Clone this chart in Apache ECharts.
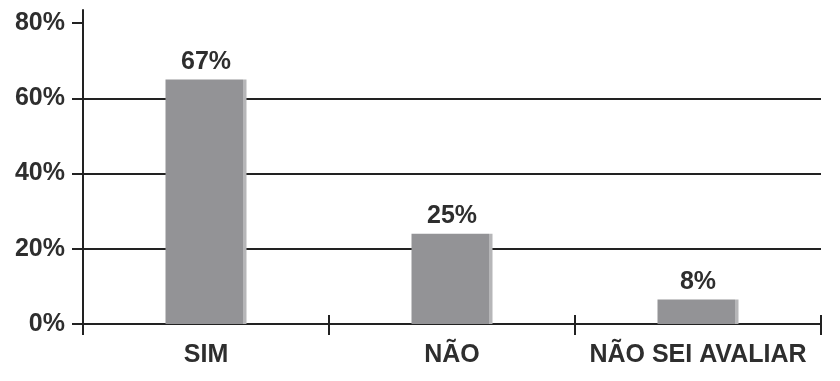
<!DOCTYPE html>
<html>
<head>
<meta charset="utf-8">
<script src="https://cdn.jsdelivr.net/npm/echarts@6/dist/echarts.min.js"></script>
<style>
html,body{margin:0;padding:0;background:#fff;}
#chart{width:840px;height:381px;}
</style>
</head>
<body>
<div id="chart"></div>
<script>
var categories = ['SIM', 'NÃO', 'NÃO SEI AVALIAR'];
var barValues = [65, 24, 6.5];
var valueLabels = ['67%', '25%', '8%'];
var yTicks = [0, 20, 40, 60, 80];

var chart = echarts.init(document.getElementById('chart'));
var font = 'Liberation Sans, Arial, sans-serif';
var barColor = {
  type: 'linear', x: 0, y: 0, x2: 1, y2: 0,
  colorStops: [
    {offset: 0, color: '#939396'},
    {offset: 0.96, color: '#939396'},
    {offset: 0.96, color: '#b6b6b8'},
    {offset: 1, color: '#b6b6b8'}
  ]
};
chart.setOption({
  animation: false,
  backgroundColor: '#fff',
  grid: {left: 83, right: 19, top: 10, bottom: 57},
  xAxis: [{
    type: 'category',
    data: categories,
    boundaryGap: true,
    axisLine: {show: true, lineStyle: {color: '#222', width: 2}},
    axisTick: {show: true, length: 11, alignWithLabel: false, lineStyle: {color: '#222', width: 2}},
    axisLabel: {interval: 0, hideOverlap: false, color: '#2e2e2e', fontFamily: font, fontWeight: 'bold', fontSize: 25, margin: 19}
  }, {
    type: 'category',
    data: categories,
    position: 'bottom',
    gridIndex: 0,
    boundaryGap: true,
    axisLine: {show: false},
    axisTick: {show: true, inside: true, length: 9, lineStyle: {color: '#222', width: 2}},
    axisLabel: {show: false},
    splitLine: {show: false}
  }],
  yAxis: {
    type: 'value',
    min: 0,
    max: 83.5,
    interval: 20,
    axisLine: {show: true, lineStyle: {color: '#222', width: 2}},
    axisTick: {show: true, length: 11, customValues: yTicks, lineStyle: {color: '#222', width: 2}},
    axisLabel: {
      customValues: yTicks,
      color: '#2e2e2e', fontFamily: font, fontWeight: 'bold', fontSize: 25, margin: 18,
      formatter: function (v) { return v + '%'; }
    },
    splitLine: {show: true, showMaxLine: false, lineStyle: {color: '#222', width: 2}}
  },
  series: [{
    type: 'bar',
    xAxisIndex: 0,
    data: barValues,
    barWidth: 81,
    itemStyle: {color: barColor},
    label: {
      show: true,
      position: 'top',
      distance: 5,
      color: '#2e2e2e',
      fontFamily: font,
      fontWeight: 'bold',
      fontSize: 25,
      formatter: function (p) { return valueLabels[p.dataIndex]; }
    }
  }]
});
</script>
</body>
</html>
